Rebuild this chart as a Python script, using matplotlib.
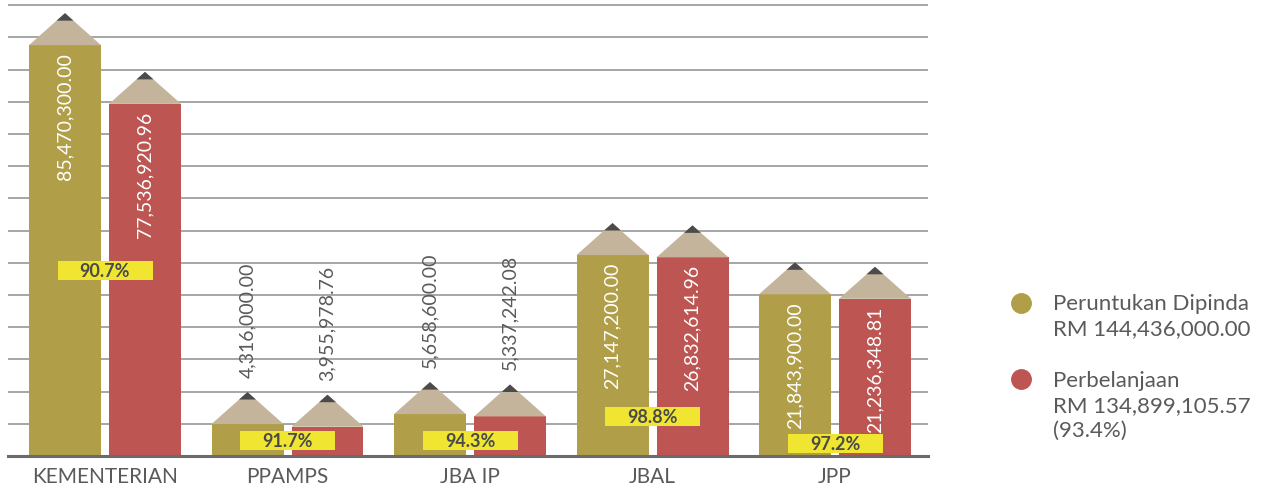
import numpy as np
import matplotlib.pyplot as plt
from matplotlib.patches import Polygon, Rectangle
from matplotlib.lines import Line2D

categories = ['KEMENTERIAN', 'PPAMPS', 'JBA IP', 'JBAL', 'JPP']
peruntukan = [85470300.00, 4316000.00, 5658600.00, 27147200.00, 21843900.00]
perbelanjaan = [77536920.96, 3955978.76, 5337242.08, 26832614.96, 21236348.81]

GOLD = '#b09f48'
RED = '#bd5553'
WOOD = '#c4b49b'
LEAD = '#4b4b4b'
BADGE = '#f0e632'
INK = '#5a5a5a'

plt.rcParams['font.family'] = ['Lato', 'DejaVu Sans']

# y axis in millions of RM; 40M-70M is squeezed out so KEMENTERIAN fits
BREAK_LO, BREAK_HI, SQUEEZE = 40.0, 70.0, 0.001
GAP = (BREAK_HI - BREAK_LO) * (1 - SQUEEZE)


def fwd(v):
    v = np.asarray(v, dtype=float)
    return np.where(v < BREAK_LO, v,
                    np.where(v < BREAK_HI, BREAK_LO + (v - BREAK_LO) * SQUEEZE,
                             v - GAP))


def inv(u):
    u = np.asarray(u, dtype=float)
    knee = BREAK_LO + (BREAK_HI - BREAK_LO) * SQUEEZE
    return np.where(u < BREAK_LO, u,
                    np.where(u < knee, BREAK_LO + (u - BREAK_LO) / SQUEEZE,
                             u + GAP))


W, H = 1279, 487
fig = plt.figure(figsize=(W / 100, H / 100), dpi=100)
ax = fig.add_axes([8 / W, 31 / H, 920 / W, 456 / H])

TOP_U = 61.6                 # axis height in squeezed units
PX = 456 / TOP_U             # pixels per squeezed unit
GROUP_PX = 182.5             # pixels between category centres

ax.set_yscale('function', functions=(fwd, inv))
ax.set_ylim(0, float(inv(TOP_U)))
ax.set_xlim(-97 / GROUP_PX, 823 / GROUP_PX)

x = np.arange(len(categories))
bw = 72 / GROUP_PX
off = 80 / GROUP_PX / 2
alloc = np.array(peruntukan) / 1e6
spent = np.array(perbelanjaan) / 1e6

ax.bar(x - off, alloc, bw, color=GOLD, zorder=3)
ax.bar(x + off, spent, bw, color=RED, zorder=3)

# pencil tips and value labels
tip_u = 32 / PX
lead_frac = 7.5 / 32
for xs, vals, raw in [(x - off, alloc, peruntukan), (x + off, spent, perbelanjaan)]:
    for xc, v, r in zip(xs, vals, raw):
        u = float(fwd(v))
        apex = float(inv(u + tip_u))
        lead = float(inv(u + tip_u * (1 - lead_frac)))
        ax.add_patch(Polygon([(xc - bw / 2, v), (xc + bw / 2, v), (xc, apex)],
                             closed=True, color=WOOD, lw=0, zorder=3))
        ax.add_patch(Polygon([(xc - bw / 2 * lead_frac, lead),
                              (xc + bw / 2 * lead_frac, lead), (xc, apex)],
                             closed=True, color=LEAD, lw=0, zorder=3))
        label = f'{r:,.2f}'
        if u * PX > 140:
            ax.annotate(label, (xc, v), xytext=(0, -8), textcoords='offset pixels',
                        rotation=90, ha='center', va='top', color='white',
                        fontsize=14, zorder=4)
        else:
            ax.annotate(label, (xc, apex), xytext=(0, 14), textcoords='offset pixels',
                        rotation=90, ha='center', va='bottom', color=INK,
                        fontsize=14, zorder=4)

# percentage badges, lifted above the baseline by a fixed number of pixels
badge_lift_px = [186, 16, 16, 40, 13]
badge_w = 95 / GROUP_PX
badge_h = 19 / PX
for xc, a, s, lift in zip(x, peruntukan, perbelanjaan, badge_lift_px):
    yc = lift / PX
    ax.add_patch(Rectangle((xc - badge_w / 2, float(inv(yc - badge_h / 2))),
                           badge_w, float(inv(yc + badge_h / 2) - inv(yc - badge_h / 2)),
                           color=BADGE, lw=0, zorder=5))
    ax.text(xc, float(inv(yc)), f'{s / a * 100:.1f}%', ha='center',
            va='center_baseline', fontsize=13, fontweight='bold',
            color='#4a4a4a', zorder=6)

# evenly spaced guide lines in screen space
grid_u = 32.2 / PX
ax.set_yticks(inv(np.arange(1, 15) * grid_u))
ax.yaxis.grid(True, color='#8e8e8e', lw=1.1)
ax.set_axisbelow(True)
ax.axhline(0, color='#6a6a6a', lw=2.2, zorder=4, clip_on=False)
ax.tick_params(axis='y', length=0, labelleft=False)
ax.yaxis.set_minor_locator(plt.NullLocator())

ax.set_xticks(x, categories)
ax.tick_params(axis='x', length=0, pad=8, labelsize=15, labelcolor=INK)
for s in ax.spines.values():
    s.set_visible(False)

# legend with totals
total_alloc = sum(peruntukan)
total_spent = sum(perbelanjaan)
entries = [
    (GOLD, 303, 294, f'Peruntukan Dipinda\nRM {total_alloc:,.2f}'),
    (RED, 379, 371, f'Perbelanjaan\nRM {total_spent:,.2f}\n'
                    f'({total_spent / total_alloc * 100:.1f}%)'),
]
for color, cy, ty, text in entries:
    fig.add_artist(Line2D([1021 / W], [1 - cy / H], marker='o', markersize=14,
                          color=color, lw=0, transform=fig.transFigure))
    fig.text(1053 / W, 1 - ty / H, text, ha='left', va='top', fontsize=16,
             color=INK, linespacing=1.3)

fig.savefig('out.png', dpi=100, facecolor='white')
